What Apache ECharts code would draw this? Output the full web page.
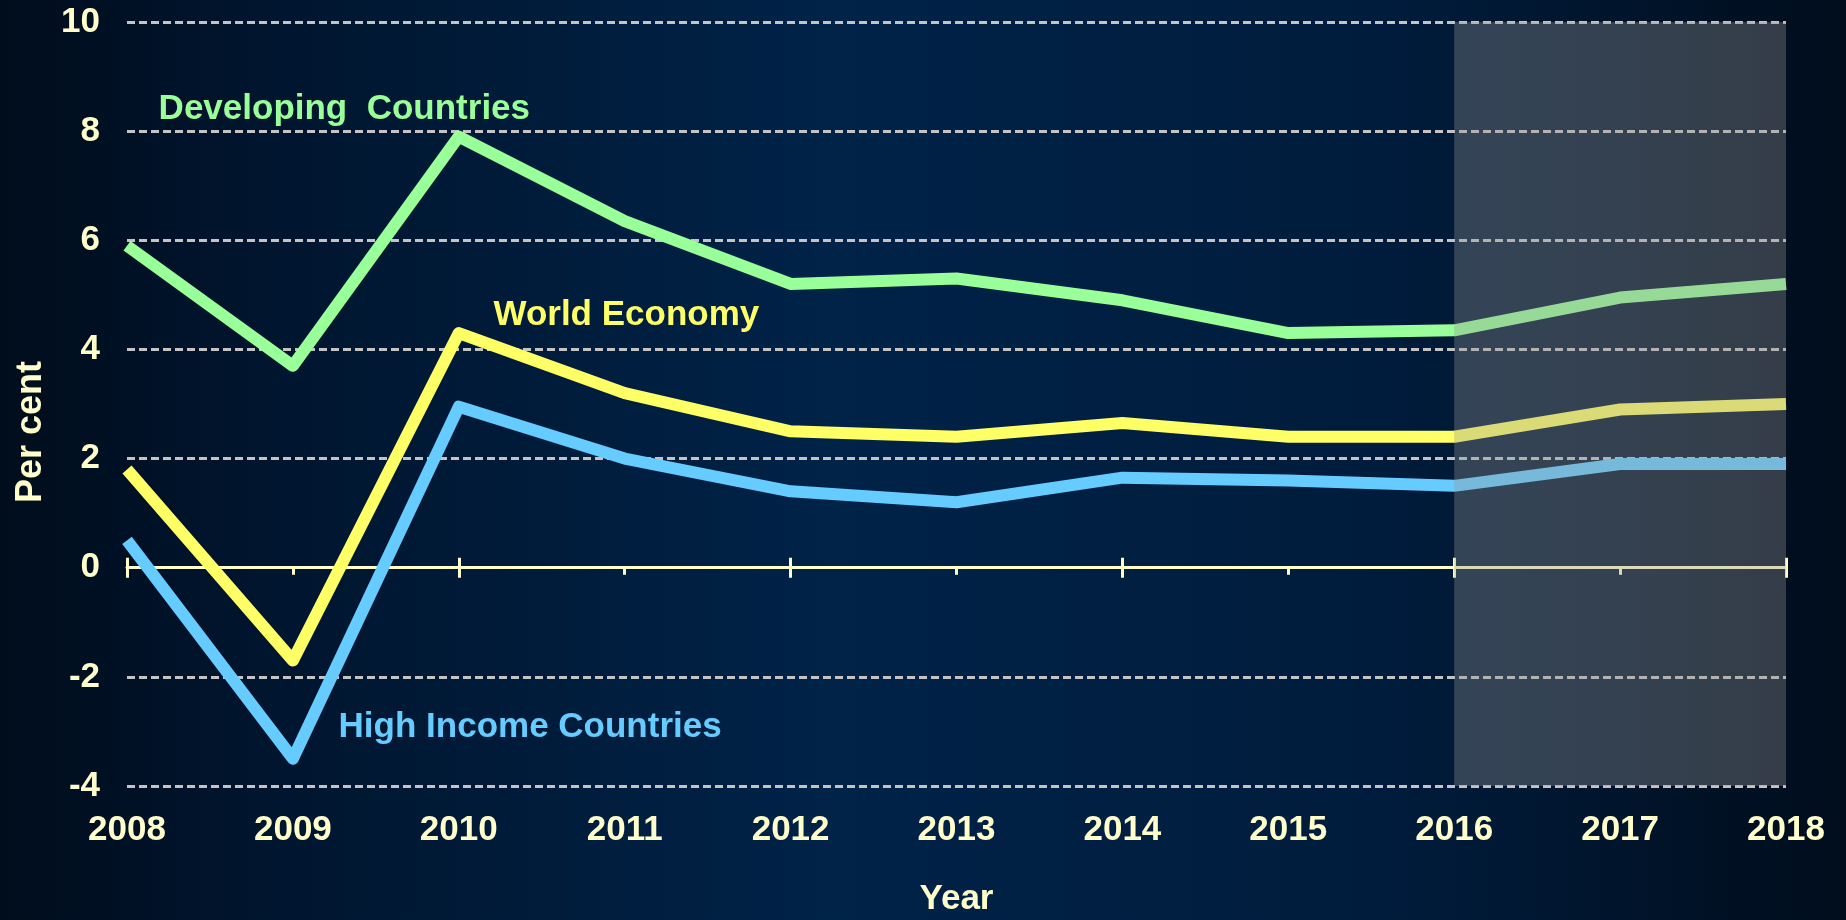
<!DOCTYPE html>
<html>
<head>
<meta charset="utf-8">
<title>GDP growth</title>
<script src="https://cdn.jsdelivr.net/npm/echarts@6/dist/echarts.min.js"></script>
<style>
  html, body { margin: 0; padding: 0; }
  #growth-chart { width: 1846px; height: 920px; }
</style>
</head>
<body>
<div id="growth-chart"></div>
<script>
const years = [2008, 2009, 2010, 2011, 2012, 2013, 2014, 2015, 2016, 2017, 2018]
const developing = [5.9, 3.7, 7.9, 6.35, 5.2, 5.3, 4.9, 4.3, 4.35, 4.95, 5.2]
const world = [1.8, -1.7, 4.3, 3.2, 2.5, 2.4, 2.65, 2.4, 2.4, 2.9, 3.0]
const highIncome = [0.5, -3.5, 2.95, 2.0, 1.4, 1.2, 1.65, 1.6, 1.5, 1.9, 1.9]
const forecastFrom = 2016
const forecastTo = 2018

const cream = '#ffffcc'
const font = "'Liberation Sans', Arial, sans-serif"

const toPairs = (vals) => years.map((y, i) => [y, vals[i]])

// series name placed inside the plot, anchored in data units
function nameTag(text, coord, color) {
  return {
    symbol: 'circle',
    symbolSize: 0,
    silent: true,
    data: [{
      coord: coord,
      label: {
        show: true,
        position: 'inside',
        formatter: text,
        color: color,
        fontFamily: font,
        fontWeight: 'bold',
        fontSize: 35
      }
    }]
  }
}

function lineSeries(name, vals, color, tagCoord) {
  return {
    name: name,
    type: 'line',
    data: toPairs(vals),
    showSymbol: false,
    symbol: 'none',
    z: 2,
    lineStyle: { color: color, width: 12, join: 'round', cap: 'butt' },
    markPoint: nameTag(name, tagCoord, color)
  }
}

const chart = echarts.init(document.getElementById('growth-chart'))
chart.setOption({
  animation: false,
  backgroundColor: {
    type: 'linear', x: 0, y: 0, x2: 1, y2: 0,
    colorStops: [
      { offset: 0, color: '#000d1c' },
      { offset: 0.12, color: '#00142c' },
      { offset: 0.45, color: '#002348' },
      { offset: 0.75, color: '#001c3c' },
      { offset: 1, color: '#000d1c' }
    ]
  },
  grid: { left: 127, right: 60, top: 22, bottom: 134, outerBoundsMode: 'none' },
  xAxis: [
    {
      // year labels along the bottom
      type: 'value', min: 2008, max: 2018, interval: 1,
      position: 'bottom',
      axisLine: { show: false, onZero: false },
      axisTick: { show: false },
      splitLine: { show: false },
      axisLabel: {
        formatter: (v) => String(v),
        color: cream, fontFamily: font, fontWeight: 'bold', fontSize: 35, margin: 27
      },
      name: 'Year',
      nameLocation: 'middle',
      nameGap: 96,
      nameTextStyle: { color: cream, fontFamily: font, fontWeight: 'bold', fontSize: 35 }
    },
    {
      // zero line with downward ticks
      type: 'value', min: 2008, max: 2018, interval: 2,
      position: 'bottom',
      axisLine: { show: true, onZero: true, onZeroAxisIndex: 0, lineStyle: { color: cream, width: 3 } },
      axisTick: { show: true, length: 10, lineStyle: { color: cream, width: 3 } },
      minorTick: { show: true, splitNumber: 2, length: 7, lineStyle: { color: cream, width: 3 } },
      splitLine: { show: false },
      axisLabel: { show: false }
    },
    {
      // upward half of the major ticks
      type: 'value', min: 2008, max: 2018, interval: 2,
      position: 'top',
      axisLine: { show: false, onZero: true, onZeroAxisIndex: 0 },
      axisTick: { show: true, length: 10, lineStyle: { color: cream, width: 3 } },
      splitLine: { show: false },
      axisLabel: { show: false }
    }
  ],
  yAxis: {
    type: 'value', min: -4, max: 10, interval: 2,
    axisLine: { show: false },
    axisTick: { show: false },
    splitLine: { lineStyle: { color: '#c4c4c4', width: 3, type: [8, 4] } },
    axisLabel: { color: cream, fontFamily: font, fontWeight: 'bold', fontSize: 35, margin: 27 },
    name: 'Per cent',
    nameLocation: 'middle',
    nameGap: 78,
    nameTextStyle: {
      color: cream, fontFamily: font, fontWeight: 'bold', fontSize: 36,
      padding: [0, 56, 0, 0]
    }
  },
  series: [
    lineSeries('Developing  Countries', developing, '#99ff99', [2009.31, 8.4]),
    lineSeries('World Economy', world, '#ffff66', [2011.01, 4.63]),
    lineSeries('High Income Countries', highIncome, '#66ccff', [2010.43, -2.93]),
    {
      // forecast band, drawn over the lines
      type: 'line',
      data: [],
      z: 10,
      markArea: {
        silent: true,
        z: 10,
        itemStyle: { color: 'rgba(150,150,150,0.35)' },
        data: [[{ xAxis: forecastFrom }, { xAxis: forecastTo }]]
      }
    }
  ]
})
</script>
</body>
</html>
